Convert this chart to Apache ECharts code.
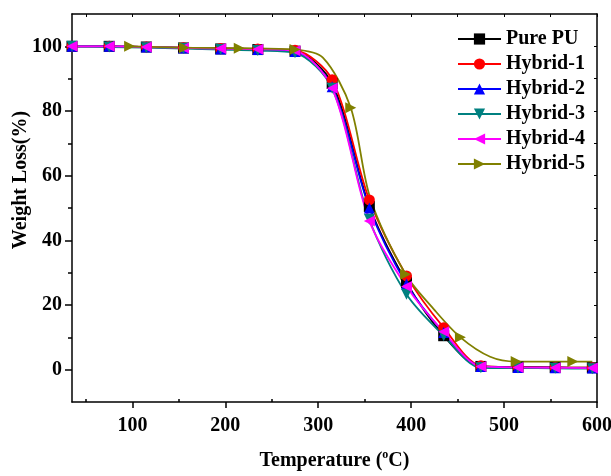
<!DOCTYPE html>
<html>
<head>
<meta charset="utf-8">
<script src="https://cdn.jsdelivr.net/npm/echarts@6/dist/echarts.min.js"></script>
<style>
  html, body { margin: 0; padding: 0; background: #fff; }
  #chart { width: 611px; height: 476px; }
</style>
</head>
<body>
<div id="chart"></div>
<script>
// 温度点（带标记的采样点）
var temps = [35, 75, 115, 155, 195, 235, 275, 315, 355, 395, 435, 475, 515, 555, 595];
var purePU  = [100, 100, 99.8, 99.5, 99.2, 99.0, 98.5, 88.5, 50.5, 27.0, 10.5, 1.0, 0.8, 0.7, 0.6];
var hybrid1 = [100, 100, 99.8, 99.6, 99.3, 99.2, 98.8, 89.7, 52.5, 29.0, 13.0, 1.2, 0.8, 0.7, 0.6];
var hybrid2 = [100, 100, 99.8, 99.5, 99.2, 99.0, 98.4, 87.5, 50.0, 26.5, 11.5, 1.0, 0.7, 0.6, 0.5];
var hybrid3 = [100, 99.8, 99.6, 99.3, 99.0, 98.7, 98.0, 87.0, 46.5, 23.3, 10.5, 0.6, 0.5, 0.4, 0.3];
var hybrid4 = [100, 100, 99.8, 99.5, 99.3, 99.1, 98.6, 87.0, 46.0, 25.7, 11.7, 1.0, 0.7, 0.6, 0.5];

// Hybrid-5 采样点不同
var h5Temps  = [97, 156, 215, 275, 305, 335, 356, 394, 425, 453, 485, 513, 574, 595];
var hybrid5  = [100, 99.6, 99.4, 99.0, 96.5, 81.0, 53.0, 29.5, 18.5, 10.0, 4.0, 2.5, 2.5, 2.5];
var h5Marked = [97, 156, 215, 275, 335, 394, 453, 513, 574];

var yLabels = [0, 20, 40, 60, 80, 100];
var yMinor = [10, 30, 50, 70, 90];
var xLabels = [100, 200, 300, 400, 500, 600];
var xMinor = [50, 150, 250, 350, 450, 550];

var font = 'Liberation Serif';

function pairs(xs, ys, marked) {
  return xs.map(function (x, i) {
    var item = { value: [x, ys[i]] };
    if (marked && marked.indexOf(x) < 0) item.symbol = 'none';
    return item;
  });
}

function line(name, color, symbol, rotate, data) {
  return {
    name: name,
    type: 'line',
    data: data,
    smooth: 0.3,
    symbol: symbol,
    symbolSize: 11,
    symbolRotate: rotate,
    showAllSymbol: true,
    lineStyle: { color: color, width: 1.8 },
    itemStyle: { color: color },
    emphasis: { disabled: true }
  };
}

var chart = echarts.init(document.getElementById('chart'));

var xBase = { type: 'value', min: 35, max: 600, splitLine: { show: false } };
var yBase = { type: 'value', min: -10, max: 110, interval: 10, splitLine: { show: false } };
var axisLine = { show: true, onZero: false, lineStyle: { color: '#000', width: 1.5 } };
var noLine = { show: false, onZero: false };

chart.setOption({
  animation: false,
  backgroundColor: '#fff',
  grid: { left: 72, right: 14, top: 14, bottom: 74, containLabel: false, outerBoundsMode: 'none' },
  legend: {
    orient: 'vertical',
    left: 452,
    top: 24,
    itemWidth: 43,
    itemHeight: 14,
    itemGap: 5,
    textStyle: { fontFamily: font, fontWeight: 'bold', fontSize: 20, color: '#000' },
    data: ['Pure PU', 'Hybrid-1', 'Hybrid-2', 'Hybrid-3', 'Hybrid-4', 'Hybrid-5']
  },
  xAxis: [
    Object.assign({}, xBase, {
      position: 'bottom',
      axisLine: axisLine,
      axisTick: { show: true, customValues: xLabels, length: 6, lineStyle: { color: '#000', width: 1.5 } },
      axisLabel: { customValues: xLabels, margin: 14, fontFamily: font, fontWeight: 'bold', fontSize: 20, color: '#000' },
      name: 'Temperature ({sup|o}C)',
      nameLocation: 'middle',
      nameGap: 47,
      nameMoveOverlap: false,
      nameTextStyle: {
        fontFamily: font, fontWeight: 'bold', fontSize: 20, color: '#000',
        rich: { sup: { fontFamily: font, fontSize: 12, color: '#000', verticalAlign: 'top', padding: [0, 0, 12, 0] } }
      }
    }),
    Object.assign({}, xBase, {
      position: 'bottom',
      axisLine: noLine,
      axisTick: { show: true, inside: true, customValues: xMinor, length: 3, lineStyle: { color: '#000', width: 1.5 } },
      axisLabel: { show: false }
    }),
    Object.assign({}, xBase, {
      position: 'top',
      axisLine: axisLine,
      axisTick: { show: true, inside: true, customValues: xMinor.concat(xLabels), length: 3, lineStyle: { color: '#000', width: 1 } },
      axisLabel: { show: false }
    })
  ],
  yAxis: [
    Object.assign({}, yBase, {
      position: 'left',
      axisLine: axisLine,
      axisTick: { show: true, customValues: yLabels, length: 7, lineStyle: { color: '#000', width: 1.5 } },
      axisLabel: { customValues: yLabels, margin: 10, fontFamily: font, fontWeight: 'bold', fontSize: 20, color: '#000' },
      name: 'Weight Loss(%)',
      nameLocation: 'middle',
      nameGap: 41,
      nameMoveOverlap: false,
      nameTextStyle: { fontFamily: font, fontWeight: 'bold', fontSize: 20, color: '#000', padding: [0, 0, 0, 56] }
    }),
    Object.assign({}, yBase, {
      position: 'left',
      axisLine: noLine,
      axisTick: { show: true, customValues: yMinor, length: 4, lineStyle: { color: '#000', width: 1.5 } },
      axisLabel: { show: false }
    }),
    Object.assign({}, yBase, {
      position: 'right',
      axisLine: axisLine,
      axisTick: { show: true, inside: true, customValues: yMinor.concat(yLabels), length: 3, lineStyle: { color: '#000', width: 1 } },
      axisLabel: { show: false }
    })
  ],
  series: [
    line('Pure PU', '#000000', 'rect', 0, pairs(temps, purePU)),
    line('Hybrid-1', '#ff0000', 'circle', 0, pairs(temps, hybrid1)),
    line('Hybrid-2', '#0000ff', 'triangle', 0, pairs(temps, hybrid2)),
    line('Hybrid-3', '#008080', 'triangle', 180, pairs(temps, hybrid3)),
    line('Hybrid-4', '#ff00ff', 'triangle', 90, pairs(temps, hybrid4)),
    line('Hybrid-5', '#808000', 'triangle', -90, pairs(h5Temps, hybrid5, h5Marked))
  ]
});
</script>
</body>
</html>
